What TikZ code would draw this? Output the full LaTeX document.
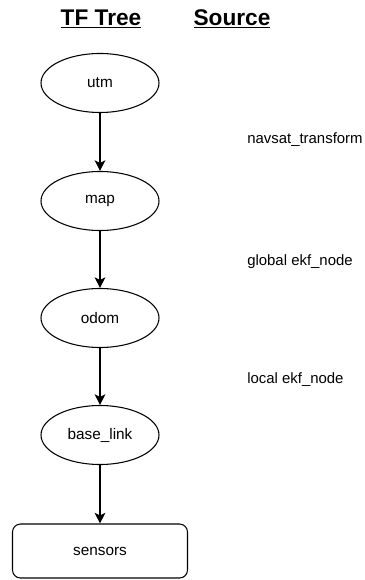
\documentclass[tikz,border=0pt]{standalone}
\usepackage{fontspec}
\setmainfont{Liberation Sans}
\usetikzlibrary{shapes.geometric,arrows.meta}
\begin{document}
\begin{tikzpicture}[x=0.75pt,y=-0.75pt,
  frame/.style={ellipse,draw,line width=0.8pt,minimum width=118*0.75pt,minimum height=59*0.75pt,inner sep=0pt,font=\fontsize{11.5}{13}\selectfont},
  boxnode/.style={rectangle,rounded corners=6pt,draw,line width=0.8pt,minimum width=175*0.75pt,minimum height=54*0.75pt,inner sep=0pt,font=\fontsize{11.5}{13}\selectfont},
  link/.style={draw,line width=0.8pt,-{Stealth[length=8pt,width=8pt,inset=2pt]}},
  srclabel/.style={anchor=west,inner sep=0pt,font=\fontsize{11.2}{13}\selectfont},
  header/.style={inner sep=0pt,font=\bfseries\fontsize{17}{20}\selectfont}]
\useasboundingbox (0,0) rectangle (364,580);
\node[header] (h1) at (101,19) {\underline{TF Tree}};
\node[header] (h2) at (232,19) {\underline{Source}};
\node[frame] (utm) at (100,83) {utm};
\node[frame] (map) at (100,201) {map};
\node[frame] (odom) at (100,318) {odom};
\node[frame] (base) at (100,435) {base\_link};
\node[boxnode] (sensors) at (100,551) {sensors};
\draw[link] (utm) -- (map);
\draw[link] (map) -- (odom);
\draw[link] (odom) -- (base);
\draw[link] (base) -- (sensors);
\node[srclabel] (l1) at (247,140) {navsat\_transform};
\node[srclabel] (l2) at (247,262) {global ekf\_node};
\node[srclabel] (l3) at (247,380) {local ekf\_node};
\end{tikzpicture}
\end{document}
